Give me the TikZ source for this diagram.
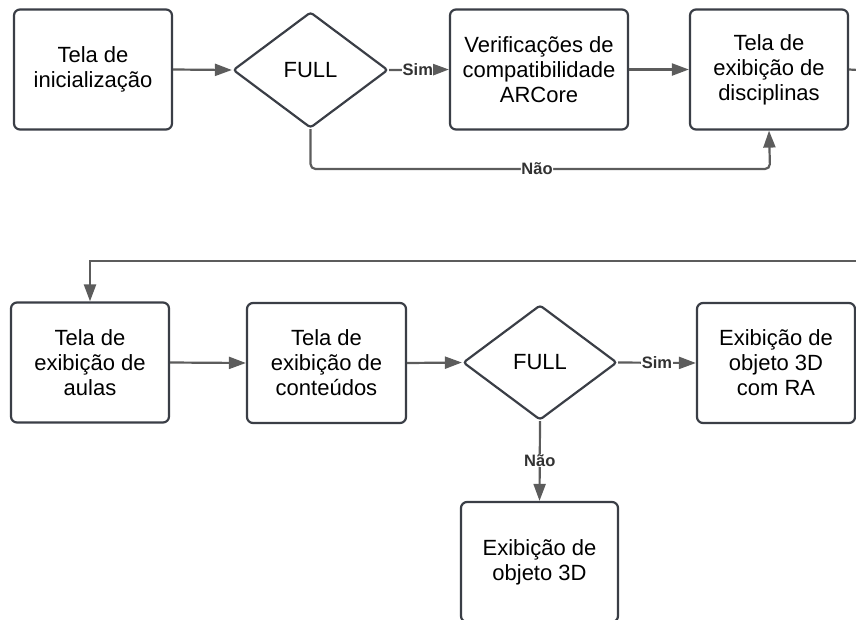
\documentclass[tikz,border=0pt]{standalone}
\usepackage{fontspec}
\setmainfont{Liberation Sans}
\usetikzlibrary{shapes.geometric,arrows.meta}
\definecolor{edgec}{RGB}{92,92,92}
\definecolor{borderc}{RGB}{58,62,70}
\definecolor{lblc}{RGB}{50,50,50}
\tikzset{
  boxn/.style={draw=borderc, line width=2.2pt, rounded corners=6pt, fill=white,
    minimum width=#1, minimum height=120pt, inner sep=0pt, align=center,
    font=\fontsize{22}{25}\selectfont},
  boxn/.default=158pt,
  decn/.style={draw=borderc, line width=2.2pt, shape=diamond, rounded corners=3pt,
    minimum width=155pt, minimum height=116pt, inner sep=0pt, aspect=1.33,
    font=\fontsize{22}{25}\selectfont},
  conn/.style={draw=edgec, line width=2.2pt, -{Triangle[length=17pt,width=12pt]}},
  plainconn/.style={draw=edgec, line width=2.2pt},
  lbl/.style={fill=white, inner sep=0.5pt, font=\fontsize{16.5}{18}\selectfont\bfseries, text=lblc}
}
\begin{document}
\begin{tikzpicture}[x=1pt,y=-1pt]
\useasboundingbox (0,0) rectangle (856,619);
\node[boxn] (b1) at (93,69.5) {Tela de\\inicialização};
\node[decn] (d1) at (310.5,70) {FULL};
\node[boxn=178pt] (b2) at (539,69.5) {Verificações de\\compatibilidade\\ARCore};
\node[boxn] (b3) at (769,69.5) {Tela de\\exibição de\\disciplinas};
\node[boxn] (b4) at (90,362.5) {Tela de\\exibição de\\aulas};
\node[boxn=159pt] (b5) at (326.5,363) {Tela de\\exibição de\\conteúdos};
\node[decn, minimum width=154pt, minimum height=115pt] (d2) at (540,362.5) {FULL};
\node[boxn] (b6) at (776,363) {Exibição de\\objeto 3D\\com RA};
\node[boxn=157pt] (b7) at (539.5,562) {Exibição de\\objeto 3D};
\coordinate (r1) at (858,70);
\coordinate (r2) at (858,261);
\coordinate (nb) at (310.5,169);
\coordinate (nc) at (770,169);

\draw[conn] (b1.east) -- (d1.west);
\draw[conn] (d1.east) -- node[lbl, pos=0.48] {Sim} (b2.west);
\draw[conn] (b2.east) -- (b3.west);
\draw[plainconn] (b3.east) -- (r1);
\draw[conn, rounded corners=5pt] (d1.south) -- (nb) -- node[lbl, pos=0.493] {Não} (nc) -- (b3.south);
\draw[conn] (r2) -| (b4.north);
\draw[conn] (b4.east) -- (b5.west);
\draw[conn] (b5.east) -- (d2.west);
\draw[conn] (d2.east) -- node[lbl, pos=0.5] {Sim} (b6.west);
\draw[conn] (d2.south) -- node[lbl, pos=0.49] {Não} (b7.north);
\end{tikzpicture}
\end{document}
